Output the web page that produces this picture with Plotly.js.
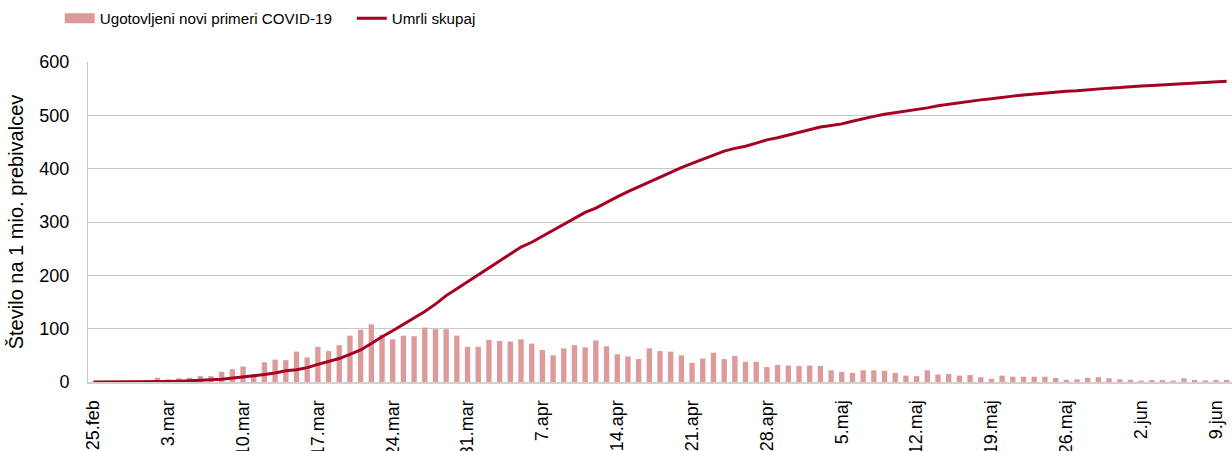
<!DOCTYPE html>
<html><head><meta charset="utf-8">
<script src="https://cdn.plot.ly/plotly-3.0.1.min.js"></script>
<style>html,body{margin:0;padding:0;background:#fff;} #chart{width:1232px;height:451px;}</style>
</head><body><div id="chart"></div>
<script>
const days = [
"25.feb","26.feb","27.feb","28.feb","29.feb",
"1.mar","2.mar","3.mar","4.mar","5.mar","6.mar","7.mar","8.mar","9.mar","10.mar","11.mar","12.mar","13.mar","14.mar","15.mar","16.mar","17.mar","18.mar","19.mar","20.mar","21.mar","22.mar","23.mar","24.mar","25.mar","26.mar","27.mar","28.mar","29.mar","30.mar","31.mar",
"1.apr","2.apr","3.apr","4.apr","5.apr","6.apr","7.apr","8.apr","9.apr","10.apr","11.apr","12.apr","13.apr","14.apr","15.apr","16.apr","17.apr","18.apr","19.apr","20.apr","21.apr","22.apr","23.apr","24.apr","25.apr","26.apr","27.apr","28.apr","29.apr","30.apr",
"1.maj","2.maj","3.maj","4.maj","5.maj","6.maj","7.maj","8.maj","9.maj","10.maj","11.maj","12.maj","13.maj","14.maj","15.maj","16.maj","17.maj","18.maj","19.maj","20.maj","21.maj","22.maj","23.maj","24.maj","25.maj","26.maj","27.maj","28.maj","29.maj","30.maj","31.maj",
"1.jun","2.jun","3.jun","4.jun","5.jun","6.jun","7.jun","8.jun","9.jun","10.jun"];

const tickLabels = ["25.feb","3.mar","10.mar","17.mar","24.mar","31.mar","7.apr","14.apr","21.apr","28.apr","5.maj","12.maj","19.maj","26.maj","2.jun","9.jun"];

const newCases = [
0,0,0,1,1,1,8,5,7,8,
11,11,19,24,29,15,37,42,41,57,
46,66,58,69,87,98,108,88,80,87,
86,102,99,99,87,66,66,79,77,76,
80,72,60,50,63,69,65,78,67,52,
48,43,63,58,57,50,36,44,55,43,
49,38,38,28,32,31,30,31,30,22,
19,17,22,22,21,17,12,11,22,14,
15,12,13,9,6,12,10,10,10,10,
7.5,4,5,8,9,7,5,4,2.5,3.5,
3.5,2.5,7,4,3,3.5,4];

const deathsTotal = [
0,0,0,0,0,0,0.3,1,1.5,2,
3,4,5,7,9,11,14,17,21,23,
27,33,38,44,52,60,72,85,96,108,
120,132,146,162,175,188,202,214,227,240,
253,262,273,285,295,307,318,326,337,347,
357,366,376,385,393,402,410,418,426,433,
438,442,448,454,458,463,468,474,478,481,
484,489,494,498,502,505,508,510,514,518,
521,524,527,529,531,534,536,538,540,542,
543,545,546,548,549,551,552,554,555,556,
557,558,559,560,561,562,564];

const seriesNames = ["Ugotovljeni novi primeri COVID-19","Umrli skupaj"];
const barColor = "#dc9a9a";
const lineColor = "#a50021";
const regular = "Liberation Sans, Arial, sans-serif";

const traces = [
  {type:"bar", x:days, y:newCases, marker:{color:barColor}, showlegend:false, name:seriesNames[0], hoverinfo:"x+y"},
  {type:"scatter", mode:"lines", x:[null], y:[null], line:{color:barColor, width:13}, name:seriesNames[0], showlegend:true, hoverinfo:"skip"},
  {type:"scatter", mode:"lines", x:days, y:deathsTotal, line:{color:lineColor, width:3}, name:seriesNames[1]}
];

const layout = {
  width:1232, height:451,
  margin:{l:88, r:0, t:62, b:69},
  paper_bgcolor:"#fff", plot_bgcolor:"#fff",
  bargap:0.5,
  font:{family:regular, size:18, color:"#000"},
  showlegend:true,
  legend:{orientation:"h", xref:"container", yref:"container", x:0.0485, y:0.9956, xanchor:"left", yanchor:"top",
          font:{family:regular, size:15.2, color:"#000"}, traceorder:"normal", itemwidth:30, entrywidth:247, bgcolor:"rgba(0,0,0,0)"},
  xaxis:{type:"category", categoryorder:"array", categoryarray:days, range:[-0.5, 106.5],
         tickmode:"array", tickvals:tickLabels, ticktext:tickLabels, tickangle:-90,
         ticks:"outside", ticklen:9, tickcolor:"rgba(0,0,0,0)",
         showgrid:false, showline:true, linecolor:"#d0d0d0", linewidth:2, zeroline:false,
         tickfont:{family:regular, size:18, color:"#000"}, automargin:false, fixedrange:true},
  yaxis:{range:[0,600], tickvals:[0,100,200,300,400,500,600], ticks:"outside", ticklen:14, tickcolor:"rgba(0,0,0,0)",
         showgrid:true, gridcolor:"#c8c8c8", gridwidth:1, zeroline:false, showline:true, linecolor:"#c8c8c8", linewidth:1,
         tickfont:{family:regular, size:18, color:"#000"}, automargin:false, fixedrange:true,
         title:{text:"Število na 1 mio. prebivalcev", font:{family:regular, size:20, color:"#000"}, standoff:10}}
};

Plotly.newPlot("chart", traces, layout, {displayModeBar:false, staticPlot:true});
</script>
</body></html>
